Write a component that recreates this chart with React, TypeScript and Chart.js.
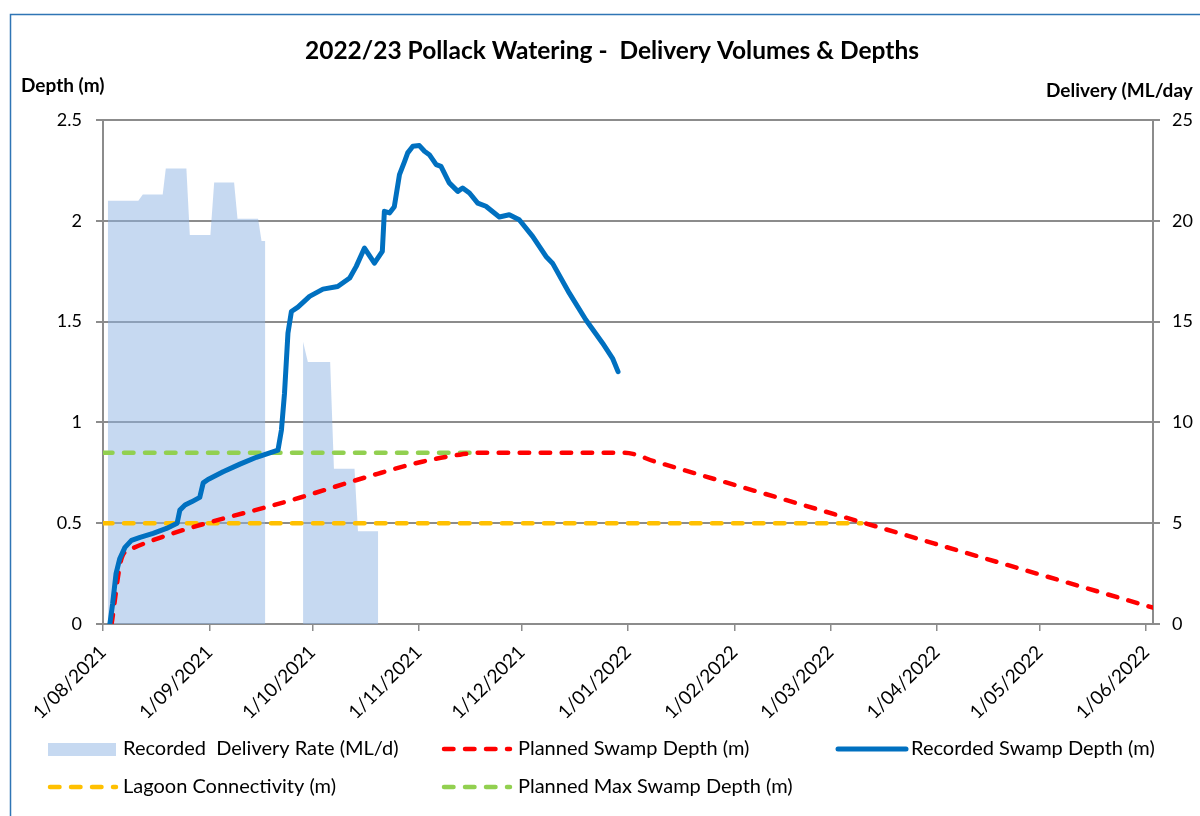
import React, { useEffect, useRef } from "react";
import { Chart, registerables } from "chart.js";

Chart.register(...registerables);

// ---- Data (x = days since 1/08/2021) ----
const monthTickDays = [0, 31, 61, 92, 122, 153, 184, 212, 243, 273, 304];
const monthTickLabels = [
  "1/08/2021", "1/09/2021", "1/10/2021", "1/11/2021", "1/12/2021", "1/01/2022",
  "1/02/2022", "1/03/2022", "1/04/2022", "1/05/2022", "1/06/2022",
];
const depthTicks = [0, 0.5, 1, 1.5, 2, 2.5];
const deliveryTicks = [0, 5, 10, 15, 20, 25];

const deliveryDays = [1.4, 10.3, 11.6, 17.4, 18.3, 24.3, 25.3, 31.3, 32.4, 38.2, 39.2, 45.2, 46.2, 47.3, 52, 58.3, 59.7, 66.2, 67.3, 73.3, 74.3, 80.2];
const deliveryRates: (number | null)[] = [21.0, 21.0, 21.3, 21.3, 22.6, 22.6, 19.3, 19.3, 21.9, 21.9, 20.1, 20.1, 19.0, 19.0, null, 14.0, 13.0, 13.0, 7.7, 7.7, 4.6, 4.6];

const recordedDays = [2.0, 2.8, 3.8, 4.9, 6.4, 8.3, 10.8, 14.6, 18.5, 21.6, 22.4, 23.9, 25.8, 28.2, 29.2, 30.6, 35.0, 39.9, 44.7, 51.0, 52.0, 52.9, 53.9, 54.9, 56.8, 60.2, 64.1, 68.4, 71.9, 73.8, 76.2, 79.1, 81.4, 82.0, 83.5, 84.9, 86.4, 87.9, 88.8, 90.3, 92.2, 93.7, 95.1, 97.1, 98.5, 100.9, 103.4, 104.8, 106.8, 109.2, 111.6, 115.5, 118.4, 121.3, 125.2, 129.1, 131.0, 135.9, 140.7, 145.6, 148.5, 150.1];
const recordedDepth = [0, 0.10, 0.25, 0.325, 0.38, 0.415, 0.43, 0.45, 0.474, 0.50, 0.565, 0.59, 0.606, 0.628, 0.70, 0.717, 0.755, 0.793, 0.827, 0.863, 0.962, 1.145, 1.443, 1.55, 1.572, 1.625, 1.661, 1.674, 1.716, 1.774, 1.865, 1.79, 1.848, 2.047, 2.039, 2.07, 2.229, 2.295, 2.337, 2.37, 2.373, 2.345, 2.328, 2.279, 2.27, 2.188, 2.146, 2.163, 2.138, 2.088, 2.072, 2.019, 2.03, 2.005, 1.923, 1.823, 1.79, 1.641, 1.509, 1.393, 1.318, 1.252];

const plannedDays = [2.5, 5.5, 8.5, 58, 80, 93, 104, 111, 152, 161, 306];
const plannedDepth = [0, 0.33, 0.375, 0.63, 0.745, 0.805, 0.84, 0.85, 0.85, 0.805, 0.081];

const lagoonDays = [0, 221];
const lagoonDepth = [0.5, 0.5];

const maxSwampDays = [0, 110];
const maxSwampDepth = [0.85, 0.85];

const FONT = "Lato, 'Open Sans', sans-serif";
const GRID = "#8c8c8c";
const DASH = [9.5, 11.5];

const pts = (xs: number[], ys: (number | null)[]) => xs.map((x, i) => ({ x, y: ys[i] }));

const decorPlugin = {
  id: "decor",
  afterDraw(chart: any) {
    const ctx = chart.ctx as CanvasRenderingContext2D;
    ctx.save();
    // outer border
    ctx.strokeStyle = "#2f75b5";
    ctx.lineWidth = 1.5;
    ctx.beginPath();
    ctx.moveTo(10.5, 900);
    ctx.lineTo(10.5, 14.5);
    ctx.lineTo(1300, 14.5);
    ctx.stroke();

    ctx.fillStyle = "#000";
    ctx.textBaseline = "middle";
    // title
    ctx.font = `bold 24.5px ${FONT}`;
    ctx.textAlign = "center";
    ctx.fillText("2022/23 Pollack Watering -  Delivery Volumes & Depths", 612, 51);
    // axis titles
    ctx.font = `bold 19px ${FONT}`;
    ctx.textAlign = "left";
    ctx.fillText("Depth (m)", 21, 86);
    ctx.fillText("Delivery (ML/day", 1046, 91);

    // legend
    ctx.font = `20px ${FONT}`;
    const row1 = 749;
    const row2 = 787;
    const text = (s: string, x: number, y: number) => {
      ctx.fillStyle = "#000";
      ctx.textAlign = "left";
      ctx.fillText(s, x, y);
    };
    const dashLine = (x1: number, x2: number, y: number, color: string, dash: number[], w: number) => {
      ctx.save();
      ctx.strokeStyle = color;
      ctx.lineWidth = w;
      ctx.lineCap = "round";
      ctx.setLineDash(dash);
      ctx.beginPath();
      ctx.moveTo(x1, y);
      ctx.lineTo(x2, y);
      ctx.stroke();
      ctx.restore();
    };
    ctx.fillStyle = "#c6d9f1";
    ctx.fillRect(48, row1 - 6, 68, 13);
    text("Recorded  Delivery Rate (ML/d)", 123, row1);
    dashLine(444, 510, row1, "#ff0000", DASH, 4.5);
    text("Planned Swamp Depth (m)", 518, row1);
    dashLine(838, 906, row1, "#0070c0", [], 5);
    text("Recorded Swamp Depth (m)", 911, row1);
    dashLine(50, 116, row2, "#ffc000", DASH, 4.5);
    text("Lagoon Connectivity (m)", 123, row2);
    dashLine(444, 510, row2, "#92d050", DASH, 4.5);
    text("Planned Max Swamp Depth (m)", 518, row2);
    ctx.restore();
  },
};

export default function App() {
  const ref = useRef<HTMLCanvasElement | null>(null);
  useEffect(() => {
    if (!ref.current) return;
    const yFont = { family: FONT, size: 18 };
    const xFont = { family: FONT, size: 19 };
    const chart = new Chart(ref.current, {
      type: "line",
      data: {
        datasets: [
          {
            label: "Recorded Swamp Depth (m)",
            data: pts(recordedDays, recordedDepth),
            yAxisID: "y",
            borderColor: "#0070c0",
            borderWidth: 5,
            borderCapStyle: "round",
            borderJoinStyle: "round",
            pointRadius: 0,
            fill: false,
            order: 0,
          },
          {
            label: "Planned Swamp Depth (m)",
            data: pts(plannedDays, plannedDepth),
            yAxisID: "y",
            borderColor: "#ff0000",
            borderWidth: 4.5,
            borderDash: DASH,
            borderCapStyle: "round",
            cubicInterpolationMode: "monotone",
            pointRadius: 0,
            fill: false,
            order: 1,
          },
          {
            label: "Planned Max Swamp Depth (m)",
            data: pts(maxSwampDays, maxSwampDepth),
            yAxisID: "y",
            borderColor: "#92d050",
            borderWidth: 4.5,
            borderDash: DASH,
            borderCapStyle: "round",
            pointRadius: 0,
            fill: false,
            order: 2,
          },
          {
            label: "Lagoon Connectivity (m)",
            data: pts(lagoonDays, lagoonDepth),
            yAxisID: "y",
            borderColor: "#ffc000",
            borderWidth: 4.5,
            borderDash: DASH,
            borderCapStyle: "round",
            pointRadius: 0,
            fill: false,
            order: 3,
          },
          {
            label: "Recorded  Delivery Rate (ML/d)",
            data: pts(deliveryDays, deliveryRates),
            yAxisID: "y1",
            borderWidth: 0,
            borderColor: "rgba(0,0,0,0)",
            backgroundColor: "rgba(141,179,227,0.5)",
            pointRadius: 0,
            fill: "origin",
            spanGaps: false,
            order: 10,
          },
        ],
      },
      options: {
        responsive: false,
        animation: false,
        events: [],
        layout: { padding: { top: 120, left: 0, right: 0, bottom: 0 } },
        plugins: {
          legend: { display: false },
          title: { display: false },
          tooltip: { enabled: false },
        },
        scales: {
          x: {
            type: "linear",
            min: 0,
            max: 306,
            afterBuildTicks: (s: any) => {
              s.ticks = monthTickDays.map((v) => ({ value: v }));
            },
            afterFit: (s: any) => {
              s.height = 192;
            },
            ticks: {
              autoSkip: false,
              maxRotation: 45,
              minRotation: 45,
              callback: (_v: any, i: number) => monthTickLabels[i],
              font: xFont,
              color: "#000",
              padding: 10,
            },
            grid: { drawOnChartArea: false, drawTicks: true, tickLength: 7, color: GRID, lineWidth: 1.5 },
            border: { display: true, color: GRID, width: 2 },
          },
          y: {
            position: "left",
            min: 0,
            max: 2.5,
            afterBuildTicks: (s: any) => {
              s.ticks = depthTicks.map((v) => ({ value: v }));
            },
            afterFit: (s: any) => {
              s.width = 103;
            },
            ticks: {
              callback: (v: any) => String(v),
              font: yFont,
              color: "#000",
              padding: 14,
            },
            grid: { color: GRID, lineWidth: 2, tickLength: 7 },
            border: { display: true, color: GRID, width: 2 },
          },
          y1: {
            position: "right",
            min: 0,
            max: 25,
            afterBuildTicks: (s: any) => {
              s.ticks = deliveryTicks.map((v) => ({ value: v }));
            },
            afterFit: (s: any) => {
              s.width = 47;
            },
            ticks: {
              callback: (v: any) => String(v),
              font: yFont,
              color: "#000",
              padding: 12,
            },
            grid: { drawOnChartArea: false, color: GRID, lineWidth: 2, tickLength: 7 },
            border: { display: true, color: GRID, width: 2 },
          },
        },
      } as any,
      plugins: [decorPlugin],
    });
    return () => chart.destroy();
  }, []);

  return (
    <div style={{ position: "absolute", left: 0, top: 0, width: 1200, height: 816, background: "#fff" }}>
      <canvas ref={ref} width={1200} height={816} style={{ display: "block", width: 1200, height: 816 }} />
    </div>
  );
}
